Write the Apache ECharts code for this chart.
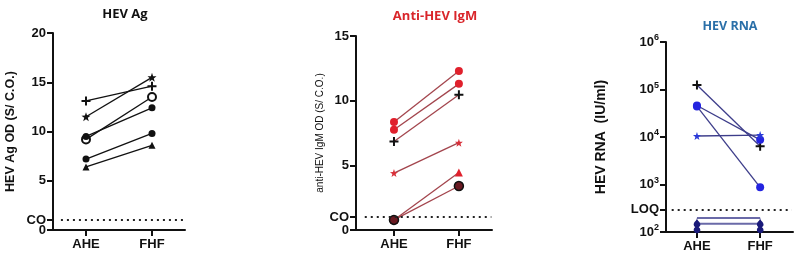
<!DOCTYPE html>
<html><head><meta charset="utf-8">
<script src="https://cdn.jsdelivr.net/npm/echarts@6/dist/echarts.min.js"></script>
<style>html,body{margin:0;padding:0;background:#fff}#c{width:800px;height:261px}</style>
</head><body><div id="c"></div>
<script>
const categories = ['AHE', 'FHF'];
// Panel 1: HEV Ag
const agPlus = [13.1, 14.6];
const agStar = [11.5, 15.5];
const agOpen = [9.2, 13.5];
const agDot1 = [9.5, 12.4];
const agDot2 = [7.2, 9.8];
const agTri = [6.4, 8.6];
const agTicks = [0, 1, 5, 10, 15, 20];
// Panel 2: Anti-HEV IgM
const igmDot1 = [8.35, 12.3];
const igmDot2 = [7.75, 11.3];
const igmPlus = [6.85, 10.45];
const igmStar = [4.4, 6.75];
const igmTri = [0.78, 4.45];
const igmDark = [0.78, 3.4];
const igmTicks = [0, 1, 5, 10, 15];
const cutoff = 1;
// Panel 3: HEV RNA
const rnaPlus = [124000, 6400];
const rnaDot1 = [46000, 8700];
const rnaDot2 = [44000, 870];
const rnaStar = [10500, 11000];
const rnaDrop1 = [197, 197];
const rnaDrop2 = [150, 150];
const rnaTicks = [100, 300, 1000, 10000, 100000, 1000000];
const loq = 300;

const STAR = 'path://M0,-10L2.35,-3.24L9.51,-3.09L3.8,1.24L5.88,8.09L0,4L-5.88,8.09L-3.8,1.24L-9.51,-3.09L-2.35,-3.24Z';
const PLUS = 'path://M-1.1,-5H1.1V-1.1H5V1.1H1.1V5H-1.1V1.1H-5V-1.1H-1.1Z';

const chart = echarts.init(document.getElementById('c'));
const tickFont = {fontFamily:'Liberation Sans', fontWeight:'bold', fontSize:13, color:'#111'};

function pts(arr){ return arr.map((v,i)=>[i,v]); }
function ser(idx, arr, symbol, size, lineColor, fill, border, bw){
  return {type:'line', xAxisIndex:idx, yAxisIndex:idx, data:pts(arr), symbol, symbolSize:size,
    lineStyle:{color:lineColor, width:1.3}, itemStyle:{color:fill, borderColor:border||fill, borderWidth:bw||0},
    z:3, silent:true, animation:false};
}
function cutLine(idx, val, x0){
  return {type:'line', xAxisIndex:idx, yAxisIndex:idx, data:[], silent:true, animation:false,
    markLine:{symbol:'none', silent:true, label:{show:false},
      lineStyle:{type:[2,4], color:'#222', width:2},
      data:[[{coord:[x0, val]},{coord:[1.5, val]}]]}};
}
function xAx(idx, min, max){
  return {type:'value', gridIndex:idx, min, max,
    axisLine:{show:true, onZero:false, lineStyle:{color:'#111', width:2}},
    axisTick:{show:true, customValues:[0,1], length:6, lineStyle:{color:'#111', width:2}},
    axisLabel:{customValues:[0,1], formatter:v=>categories[Math.round(v)] || '', ...tickFont, fontSize:13, margin:8},
    splitLine:{show:false}};
}
const ls = {lineStyle:{color:'#111', width:2}};
const agLabelValues = agTicks.filter(v => v !== cutoff);

const option = {
  animation:false,
  title:[
    {text:'HEV Ag', left:120, top:3, textAlign:'center', textStyle:{fontFamily:'Open Sans', fontWeight:'bold', fontSize:13, color:'#111'}},
    {text:'Anti-HEV IgM', left:430, top:5, textAlign:'center', textStyle:{fontFamily:'Open Sans', fontWeight:'bold', fontSize:13, color:'#d9262b'}},
    {text:'HEV RNA', left:725, top:15, textAlign:'center', textStyle:{fontFamily:'Open Sans', fontWeight:'bold', fontSize:12.5, color:'#2a6fa8'}}
  ],
  grid:[
    {left:53, top:33, width:132, height:197},
    {left:356, top:36, width:136, height:194},
    {left:666, top:42, width:127, height:190}
  ],
  xAxis:[ xAx(0,-0.5,1.5), xAx(1,-0.585,1.51), xAx(2,-0.49,1.52) ],
  yAxis:[
    {type:'value', gridIndex:0, min:0, max:20, name:'HEV Ag OD (S/ C.O.)', nameLocation:'middle', nameGap:36,
      nameTextStyle:{fontFamily:'Liberation Sans', fontWeight:'bold', fontSize:12.5, color:'#111'},
      axisLine:{show:true, onZero:false, ...ls}, axisTick:{show:true, customValues:agTicks, length:6, ...ls},
      axisLabel:{customValues:agLabelValues, ...tickFont, margin:7, showMinLabel:true,
        formatter:v=> v===0 ? '{a|CO}\n{a|0}\n{e| }' : String(v),
        rich:{a:{fontFamily:'Liberation Sans', fontWeight:'bold', fontSize:13, color:'#111', lineHeight:10, align:'right'},
              e:{fontSize:8, lineHeight:10}}},
      splitLine:{show:false}},
    {type:'value', gridIndex:1, min:0, max:15, name:'anti-HEV IgM OD (S/ C.O.)', nameLocation:'middle', nameGap:30,
      nameTextStyle:{fontFamily:'Liberation Sans', fontSize:10, color:'#111'},
      axisLine:{show:true, onZero:false, ...ls}, axisTick:{show:true, customValues:igmTicks, length:6, ...ls},
      axisLabel:{customValues:igmTicks, formatter:v=>v===cutoff?'CO':String(v), ...tickFont, margin:7,
        showMinLabel:true}, splitLine:{show:false}},
    {type:'log', gridIndex:2, min:100, max:1000000, logBase:10, name:'HEV RNA  (IU/ml)', nameLocation:'middle', nameGap:58,
      nameTextStyle:{fontFamily:'Liberation Sans', fontWeight:'bold', fontSize:14, color:'#111'},
      axisLine:{show:true, onZero:false, ...ls}, axisTick:{show:true, customValues:rnaTicks, length:6, ...ls},
      axisLabel:{customValues:rnaTicks, ...tickFont, margin:7, showMinLabel:true,
        formatter:v=>{ if (Math.abs(v-loq)<1) return 'LOQ'; const e=Math.round(Math.log10(v)); return '10{s|'+e+'}'; },
        rich:{s:{fontFamily:'Liberation Sans', fontWeight:'bold', fontSize:9, color:'#111', verticalAlign:'top', padding:[0,0,8,0]}}},
      splitLine:{show:false}}
  ],
  series:[
    cutLine(0, cutoff, -0.38),
    ser(0, agPlus, PLUS, 9, '#111', '#111'),
    ser(0, agStar, STAR, 9, '#111', '#111'),
    ser(0, agOpen, 'circle', 8, '#111', '#fff', '#111', 2),
    ser(0, agDot1, 'circle', 7, '#111', '#111'),
    ser(0, agDot2, 'circle', 7, '#111', '#111'),
    ser(0, agTri, 'triangle', 7, '#111', '#111'),

    cutLine(1, cutoff, -0.45),
    ser(1, igmDot1, 'circle', 8, '#a3454d', '#e0202c'),
    ser(1, igmDot2, 'circle', 8, '#a3454d', '#e0202c'),
    ser(1, igmPlus, PLUS, 9, '#a3454d', '#111'),
    ser(1, igmStar, STAR, 8, '#a3454d', '#d8303a'),
    ser(1, igmTri, 'triangle', 8, '#a3454d', '#e0202c'),
    ser(1, igmDark, 'circle', 9, '#a3454d', '#6a1a22', '#111', 1.5),

    cutLine(2, loq, -0.4),
    ser(2, rnaPlus, PLUS, 9, '#3d3d8a', '#111'),
    ser(2, rnaDot1, 'circle', 8, '#3d3d8a', '#2424e0'),
    ser(2, rnaDot2, 'circle', 8, '#3d3d8a', '#2424e0'),
    ser(2, rnaStar, STAR, 8, '#3d3d8a', '#2a3ad8'),
    {...ser(2, rnaDrop1, 'pin', 11, '#6a6aa8', '#1a1a7a'), symbolRotate:180, lineStyle:{color:'#6a6aa8', width:2}},
    {...ser(2, rnaDrop2, 'pin', 11, '#6a6aa8', '#1a1a7a'), symbolRotate:180, lineStyle:{color:'#6a6aa8', width:2}}
  ]
};
chart.setOption(option);
</script></body></html>
